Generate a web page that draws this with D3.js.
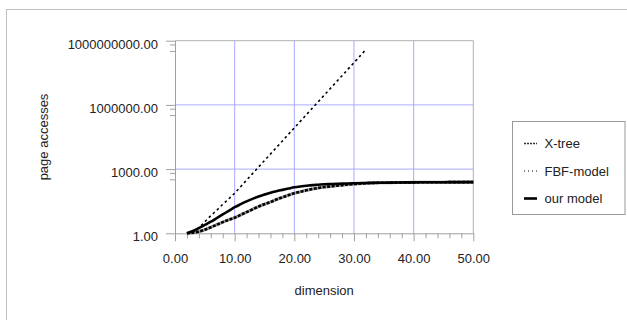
<!DOCTYPE html>
<html>
<head>
<meta charset="utf-8">
<script src="https://cdn.jsdelivr.net/npm/d3@7/dist/d3.min.js"></script>
<style>
  body { margin: 0; background: #fff; }
  text { font-family: "Liberation Sans", Arial, sans-serif; fill: #222; }
</style>
</head>
<body>
<script>
// Data
const dimensions = [2, 3, 4, 5, 6, 7, 8, 9, 10, 11, 12, 13, 14, 15, 16, 17, 18, 19, 20,
  21, 22, 23, 24, 25, 26, 27, 28, 29, 30, 32, 34, 36, 38, 40, 42, 44, 46, 48, 50];
const xtreeValues = [1, 1.07, 1.2, 1.48, 1.91, 2.51, 3.31, 4.27, 5.37, 7.24, 9.77, 13.2, 17.8, 22.9, 28.8, 38, 47.9, 60.3, 74.1,
  87.1, 102, 117, 132, 145, 155, 166, 178, 191, 200, 219, 228, 232, 236, 240, 242, 244, 245, 246, 247];
const ourModelValues = [1, 1.29, 1.74, 2.45, 3.47, 5.13, 7.59, 11.2, 16.6, 22.9, 30.9, 40.7, 52.5, 64.6, 79.4, 93.3, 107, 123, 141,
  155, 166, 178, 186, 195, 200, 204, 209, 214, 219, 225, 230, 234, 237, 240, 242, 244, 245, 246, 247];
const fbfDimensions = [2, 3, 4, 5, 6, 7, 8, 9, 10, 11, 12, 13, 14, 15, 16, 17,
  18, 19, 20, 21, 22, 23, 24, 25, 26, 27, 28, 29, 30, 31, 32];
const fbfValues = [1, 1.2, 1.86, 3.47, 6.6, 12, 22.4, 40.7, 75, 151, 305, 617, 1245, 2512, 5070, 10233,
  20650, 41690, 84140, 169800, 342800, 691800, 1396000, 2818000, 5689000, 11480000, 23170000, 46770000, 94400000, 190500000, 384600000];
const xTicks = [0, 10, 20, 30, 40, 50];
const xMinorTicks = [2, 4, 6, 8, 12, 14, 16, 18, 22, 24, 26, 28, 32, 34, 36, 38, 42, 44, 46, 48];
const yTicks = [1, 1000, 1000000, 1000000000];
const yMinorTicks = [333.33, 666.67, 333333.3, 666666.7, 333333333, 666666667];
const seriesNames = ['X-tree', 'FBF-model', 'our model'];

const W = 627, H = 320;
const plot = { left: 175, right: 473.3, top: 40.7, bottom: 233.3 };

const svg = d3.select('body')
  .append('svg')
  .attr('width', W)
  .attr('height', H);

// outer chart border
svg.append('rect')
  .attr('x', 6.5).attr('y', 9.5)
  .attr('width', 630).attr('height', 330)
  .attr('fill', 'none')
  .attr('stroke', '#c0c0c0');

const x = d3.scaleLinear().domain([0, 50]).range([plot.left, plot.right]);
const y = d3.scaleLog().domain([1, 1e9]).range([plot.bottom, plot.top]);

// gridlines
svg.append('g')
  .selectAll('line')
  .data(xTicks.slice(1, -1))
  .join('line')
  .attr('x1', d => x(d)).attr('x2', d => x(d))
  .attr('y1', plot.top).attr('y2', plot.bottom)
  .attr('stroke', '#aaaaff');

svg.append('g')
  .selectAll('line')
  .data(yTicks.slice(1, -1))
  .join('line')
  .attr('x1', plot.left).attr('x2', plot.right)
  .attr('y1', d => y(d)).attr('y2', d => y(d))
  .attr('stroke', '#aaaaff');

// plot border (top + right)
svg.append('path')
  .attr('d', `M${plot.left},${plot.top}H${plot.right}V${plot.bottom}`)
  .attr('fill', 'none')
  .attr('stroke', '#b0b0b0');

// axes
const fmt = d3.format('.2f');

const xAxis = svg.append('g')
  .attr('transform', `translate(0, ${plot.bottom})`)
  .call(d3.axisBottom(x).tickValues(xTicks).tickFormat(fmt).tickSize(8).tickPadding(12).tickSizeOuter(0));
svg.append('g')
  .attr('transform', `translate(0, ${plot.bottom})`)
  .call(d3.axisBottom(x).tickValues(xMinorTicks).tickFormat('').tickSize(5).tickSizeOuter(0))
  .call(g => g.select('.domain').remove());

const yAxis = svg.append('g')
  .attr('transform', `translate(${plot.left}, 0)`)
  .call(d3.axisLeft(y).tickValues(yTicks).tickFormat(fmt).tickSize(9).tickPadding(8).tickSizeOuter(0));
svg.append('g')
  .attr('transform', `translate(${plot.left}, 0)`)
  .call(d3.axisLeft(y).tickValues(yMinorTicks).tickFormat('').tickSize(5).tickSizeOuter(0))
  .call(g => g.select('.domain').remove());

svg.selectAll('.domain, .tick line').attr('stroke', '#a0a0a0');
svg.selectAll('.tick text')
  .attr('font-size', 13)
  .attr('font-family', '"Liberation Sans", Arial, sans-serif')
  .attr('fill', '#222');
yAxis.selectAll('.tick text').attr('dy', '0.57em');

// axis titles
svg.append('text')
  .attr('x', (plot.left + plot.right) / 2)
  .attr('y', 295)
  .attr('text-anchor', 'middle')
  .attr('font-size', 13)
  .text('dimension');

svg.append('text')
  .attr('transform', `translate(47.5, ${(plot.top + plot.bottom) / 2}) rotate(-90)`)
  .attr('text-anchor', 'middle')
  .attr('font-size', 13)
  .text('page accesses');

// lines
const line = d3.line()
  .x(d => x(d[0]))
  .y(d => y(d[1]))
  .curve(d3.curveMonotoneX);

const clip = svg.append('clipPath').attr('id', 'plotclip')
  .append('rect')
  .attr('x', plot.left).attr('y', plot.top - 2)
  .attr('width', plot.right - plot.left + 2).attr('height', plot.bottom - plot.top + 4);

const lines = svg.append('g').attr('clip-path', 'url(#plotclip)');

const xtree = d3.zip(dimensions, xtreeValues);
const ours = d3.zip(dimensions, ourModelValues);
const fbf = d3.zip(fbfDimensions, fbfValues);

// X-tree: thick hatched dashed line
lines.append('path')
  .datum(xtree)
  .attr('d', line)
  .attr('fill', 'none')
  .attr('stroke', '#999')
  .attr('stroke-width', 3);
lines.append('path')
  .datum(xtree)
  .attr('d', line)
  .attr('fill', 'none')
  .attr('stroke', '#000')
  .attr('stroke-width', 2.6)
  .attr('stroke-dasharray', '3,1.5');

// FBF-model: dotted
lines.append('path')
  .datum(fbf)
  .attr('d', line)
  .attr('fill', 'none')
  .attr('stroke', '#000')
  .attr('stroke-width', 1.6)
  .attr('stroke-dasharray', '2.5,3');

// our model: solid
lines.append('path')
  .datum(ours)
  .attr('d', line)
  .attr('fill', 'none')
  .attr('stroke', '#000')
  .attr('stroke-width', 2.6);

// legend
const legend = svg.append('g');
legend.append('rect')
  .attr('x', 512.5).attr('y', 121.5)
  .attr('width', 112.5).attr('height', 93)
  .attr('fill', '#fff')
  .attr('stroke', '#999');

const legendY = [143.5, 171, 198.5];
const legendStyles = [
  { width: 1.6, dash: '2,1', color: '#333' },
  { width: 1.2, dash: '1,3', color: '#000' },
  { width: 2.6, dash: null, color: '#000' }
];

seriesNames.forEach((name, i) => {
  legend.append('line')
    .attr('x1', 524).attr('x2', 537)
    .attr('y1', legendY[i]).attr('y2', legendY[i])
    .attr('stroke', legendStyles[i].color)
    .attr('stroke-width', legendStyles[i].width)
    .attr('stroke-dasharray', legendStyles[i].dash);
  legend.append('text')
    .attr('x', 544.5)
    .attr('y', legendY[i] + 4.6)
    .attr('font-size', 13)
    .text(name);
});
</script>
</body>
</html>
